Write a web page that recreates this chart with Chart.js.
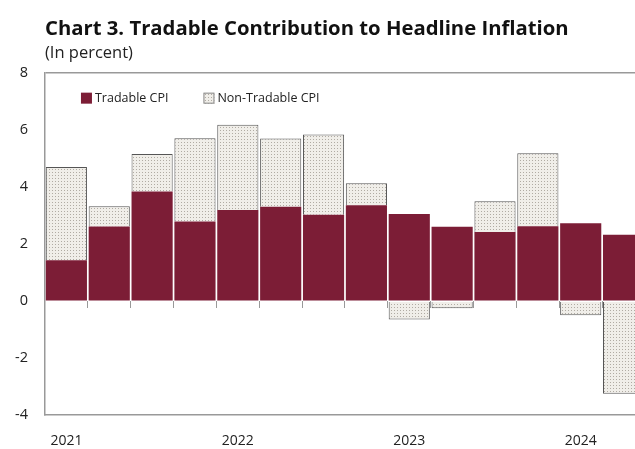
<!DOCTYPE html>
<html>
<head>
<meta charset="utf-8">
<script src="https://cdn.jsdelivr.net/npm/chart.js@4.4.1/dist/chart.umd.min.js"></script>
<style>
    html, body { margin: 0; padding: 0; background: #fff; overflow: hidden; }
    #wrap { position: relative; width: 650px; height: 449px; }
</style>
</head>
<body>
<div id="wrap"><canvas id="tradableChart"></canvas></div>
<script>
// Quarterly data, 2021Q1 - 2024Q2
const quarters = ['2021Q1', '2021Q2', '2021Q3', '2021Q4', '2022Q1', '2022Q2', '2022Q3', '2022Q4',
                  '2023Q1', '2023Q2', '2023Q3', '2023Q4', '2024Q1', '2024Q2'];
const tradableCPI = [1.44, 2.62, 3.85, 2.80, 3.20, 3.31, 3.03, 3.37, 3.06, 2.61, 2.43, 2.63, 2.73, 2.33];
const nonTradableCPI = [3.27, 0.71, 1.31, 2.92, 2.99, 2.40, 2.82, 0.77, -0.64, -0.25, 1.08, 2.56, -0.49, -3.25];
const yTicks = { min: -4, max: 8, step: 2 };

const font = "'Open Sans', 'Noto Sans', sans-serif";
const maroon = '#7c1d36';

// dotted fill used for the non-tradable bars
function dotPattern() {
    const c = document.createElement('canvas');
    c.width = 3;
    c.height = 3;
    const g = c.getContext('2d');
    g.fillStyle = '#f0eee9';
    g.fillRect(0, 0, 3, 3);
    g.fillStyle = '#b0aba3';
    g.fillRect(1, 1, 1, 1);
    return g.createPattern(c, 'repeat');
}

// legend sits inside the plot, top left, in one row
const inPlotLegend = {
    id: 'inPlotLegend',
    afterDatasetsDraw(chart) {
        const { ctx, chartArea } = chart;
        let x = chartArea.left + 36;
        const y = chartArea.top + 25;
        ctx.save();
        ctx.font = '12.5px ' + font;
        ctx.textBaseline = 'middle';
        chart.data.datasets.forEach(ds => {
            ctx.fillStyle = ds.backgroundColor;
            ctx.fillRect(x, y - 5.5, 11, 11);
            if (ds.borderWidth) {
                ctx.strokeStyle = '#888';
                ctx.lineWidth = 1;
                ctx.strokeRect(x + 0.5, y - 5, 10, 10);
            }
            ctx.fillStyle = '#222';
            ctx.fillText(ds.label, x + 14, y);
            x += 14 + ctx.measureText(ds.label).width + 35;
        });
        ctx.restore();
    }
};

new Chart(document.getElementById('tradableChart'), {
    type: 'bar',
    data: {
        labels: quarters,
        datasets: [
            {
                label: 'Tradable CPI',
                data: tradableCPI,
                backgroundColor: maroon,
                borderWidth: 0
            },
            {
                label: 'Non-Tradable CPI',
                data: nonTradableCPI,
                backgroundColor: dotPattern(),
                borderColor: '#555',
                borderWidth: 1
            }
        ]
    },
    options: {
        responsive: true,
        maintainAspectRatio: false,
        animation: false,
        datasets: {
            bar: { categoryPercentage: 1, barPercentage: 0.96 }
        },
        layout: {
            padding: { left: 15, right: 5, top: 17, bottom: 0 }
        },
        plugins: {
            title: {
                display: true,
                text: 'Chart 3. Tradable Contribution to Headline Inflation',
                align: 'start',
                fullSize: false,
                color: '#111',
                font: { family: font, size: 20.3, weight: 'bold', lineHeight: 1.2 },
                padding: { top: 0, bottom: 2 }
            },
            subtitle: {
                display: true,
                text: '(In percent)',
                align: 'start',
                fullSize: false,
                color: '#222',
                font: { family: font, size: 16.5, lineHeight: 1.2 },
                padding: { top: 0, bottom: 10 }
            },
            legend: { display: false },
            tooltip: { enabled: false }
        },
        scales: {
            x: {
                stacked: true,
                grid: { display: false, drawTicks: true, tickLength: 17 },
                border: { color: '#999', width: 1.5 },
                ticks: {
                    autoSkip: false,
                    maxRotation: 0,
                    padding: 0,
                    color: '#222',
                    font: { family: font, size: 14 },
                    callback(value) {
                        const q = this.getLabelForValue(value);
                        return q.endsWith('Q1') ? q.slice(0, 4) : '';
                    }
                }
            },
            x2: {
                type: 'category',
                labels: quarters,
                position: { y: 0 },
                offset: true,
                grid: {
                    offset: true,
                    drawOnChartArea: false,
                    drawTicks: true,
                    tickLength: 7,
                    color: '#999'
                },
                border: { display: false },
                ticks: { display: false }
            },
            y: {
                stacked: true,
                min: yTicks.min,
                max: yTicks.max,
                grid: {
                    drawTicks: true,
                    tickLength: 17,
                    tickColor: 'rgba(0,0,0,0)',
                    color: (ctx) => (ctx.tick && ctx.tick.value === yTicks.max ? '#999' : 'rgba(0,0,0,0)'),
                    lineWidth: 1.5
                },
                border: { color: '#999', width: 1.5 },
                ticks: {
                    stepSize: yTicks.step,
                    padding: 0,
                    color: '#222',
                    font: { family: font, size: 14.5 }
                }
            }
        }
    },
    plugins: [inPlotLegend]
});
</script>
</body>
</html>
